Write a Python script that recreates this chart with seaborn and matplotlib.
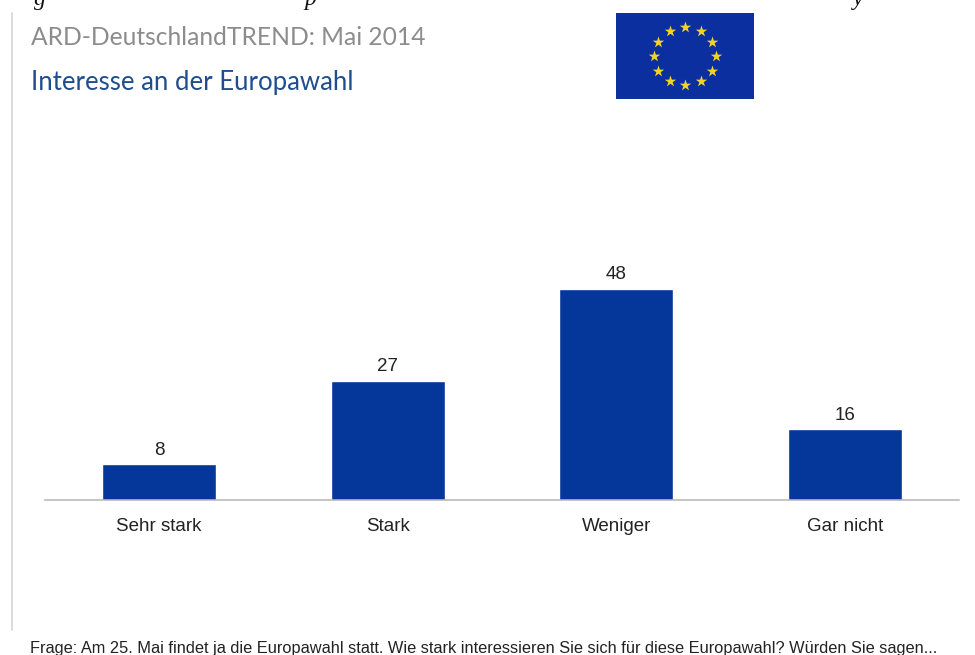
import numpy as np
import pandas as pd
import seaborn as sns
import matplotlib
matplotlib.use('Agg')
import matplotlib.pyplot as plt

categories = ['Sehr stark', 'Stark', 'Weniger', 'Gar nicht']
values = [8, 27, 48, 16]

title_top = 'ARD-DeutschlandTREND: Mai 2014'
title_sub = 'Interesse an der Europawahl'
footnote = 'Frage: Am 25. Mai findet ja die Europawahl statt. Wie stark interessieren Sie sich für diese Europawahl? Würden Sie sagen...'

W, H = 975, 655
BLUE = '#05369a'

sns.set_theme(style='white')
plt.rcParams['font.family'] = ['Liberation Sans', 'DejaVu Sans']

df = pd.DataFrame({'Kategorie': categories, 'Wert': values})

fig = plt.figure(figsize=(W / 100, H / 100), dpi=100, facecolor='white')


def px_axes(x0, y0, x1, y1, **kwargs):
    # pixel box measured from the top left of the image
    return fig.add_axes([x0 / W, 1 - y1 / H, (x1 - x0) / W, (y1 - y0) / H], **kwargs)


def fig_text(x, y, s, **kwargs):
    return fig.text(x / W, 1 - y / H, s, **kwargs)


# bars
ax = px_axes(45, 240, 959, 499.5)
ax.patch.set_alpha(0)
sns.barplot(data=df, x='Kategorie', y='Wert', color=BLUE, width=0.497,
            saturation=1, ax=ax)
ax.set_xlim(-0.5, 3.5)
ax.set_ylim(0, 59.1)
ax.set_xlabel('')
ax.set_ylabel('')
ax.set_yticks([])
ax.tick_params(axis='x', length=0, pad=13, labelsize=13.5, labelcolor='#222222')
sns.despine(ax=ax, left=True)
ax.spines['bottom'].set_color('#b5b5b5')
ax.spines['bottom'].set_linewidth(1.1)
ax.bar_label(ax.containers[0], padding=4, fontsize=13.5, color='#222222')

# headings
fig_text(31, 45, title_top, family=['Lato', 'DejaVu Sans'], fontsize=17.7, color='#8c8c8c')
fig_text(31, 90, title_sub, family=['Lato', 'DejaVu Sans'], fontsize=18.5, color='#1f4e8f')
fig_text(30, 653, footnote, fontsize=11.75, color='#222222')

# left rule
fig.add_artist(plt.Line2D([11.5 / W, 11.5 / W], [1 - 13 / H, 1 - 630 / H], color='#d4d4d4', lw=1.2))

# descenders of the cropped line above the chart
for x, ch in [(34, 'g'), (304, 'p'), (853, 'y')]:
    fig_text(x, 5, ch, family=['Liberation Serif'], style='italic', fontsize=17, color='#111111')

# EU flag
flag = px_axes(616, 13, 754, 99)
flag.set_facecolor('#0b2f9f')
flag.set_xlim(-69, 69)
flag.set_ylim(-43, 43)
flag.set_xticks([])
flag.set_yticks([])
for s in flag.spines.values():
    s.set_visible(False)
angles = np.deg2rad(np.arange(0, 360, 30))
flag.scatter(31 * np.cos(angles), 29 * np.sin(angles), marker='*', s=75,
             color='#f2d327', linewidths=0)

fig.savefig('out.png', dpi=100)
